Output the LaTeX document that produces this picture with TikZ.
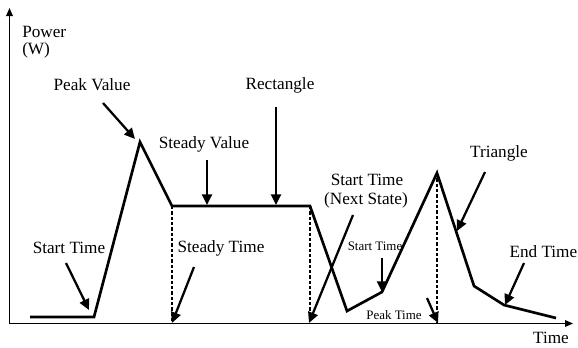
\documentclass[tikz,border=0pt]{standalone}
\usepackage{fontspec}
\setmainfont{Liberation Serif}
\usetikzlibrary{arrows.meta}
\begin{document}
\begin{tikzpicture}[x=0.75pt,y=-0.75pt,
  lbl/.style={inner sep=0pt,font=\fontsize{12.9}{14}\selectfont},
  slbl/.style={inner sep=0pt,font=\fontsize{9.7}{11}\selectfont},
  axisline/.style={line width=0.9pt,-{Triangle[length=6pt,width=5pt]}},
  curveline/.style={line width=2pt,line join=miter},
  pointer/.style={line width=1.7pt,-{Triangle[length=8pt,width=7.5pt]}},
  guide/.style={line width=1.8pt,dash pattern=on 2.5pt off 1.5pt}]
\useasboundingbox (0,0) rectangle (578,347);
% axes
\coordinate (O) at (9.5,323.5);
\coordinate (ytip) at (9.5,8);
\coordinate (xtip) at (573,323.5);
\draw[axisline] (O) -- (ytip);
\draw[axisline] (O) -- (xtip);
\node[lbl,anchor=west] (power) at (22,32) {Power};
\node[lbl,anchor=west] (watt) at (22,50) {(W)};
\node[lbl,anchor=base] (time) at (551,343.5) {Time};
% curve points
\coordinate (c0) at (30,317);
\coordinate (c1) at (94,317);
\coordinate (c2) at (140,142);
\coordinate (c3) at (172,206);
\coordinate (c4) at (310,206);
\coordinate (c5) at (347,311);
\coordinate (c6) at (382,292);
\coordinate (c7) at (437,173);
\coordinate (c8) at (474,286);
\coordinate (c9) at (504,305);
\coordinate (c10) at (556,318);
\draw[curveline] (c0) -- (c1) -- (c2) -- (c3) -- (c4) -- (c5) -- (c6) -- (c7) -- (c8) -- (c9) -- (c10);
% dashed guides
\coordinate (g1) at (172,323.5);
\coordinate (g2) at (310,323.5);
\coordinate (g3) at (437,323.5);
\draw[guide] (c3) -- (g1);
\draw[guide] (c4) -- (g2);
\draw[guide] (c7) -- (g3);
% labels
\node[lbl] (peakv) at (92,85) {Peak Value};
\node[lbl] (rect) at (280,85) {Rectangle};
\node[lbl] (steadyv) at (204,144) {Steady Value};
\node[lbl] (tri) at (499,153) {Triangle};
\node[lbl] (startt) at (69,248) {Start Time};
\node[lbl] (steadyt) at (221,248) {Steady Time};
\node[lbl] (nextst) at (367,180) {Start Time};
\node[lbl] (nextst2) at (366,200) {(Next State)};
\node[slbl] (starts) at (375,246) {Start Time};
\node[slbl] (peakt) at (394,315) {Peak Time};
\node[lbl,anchor=east] (endt) at (577.5,252) {End Time};
% arrows
\coordinate (a1s) at (103,103); \coordinate (a1e) at (135,139);
\draw[pointer] (a1s) -- (a1e);
\coordinate (a2s) at (207,160); \coordinate (a2e) at (207,205);
\draw[pointer] (a2s) -- (a2e);
\coordinate (a3s) at (276,107); \coordinate (a3e) at (276,205);
\draw[pointer] (a3s) -- (a3e);
\coordinate (a4s) at (66,263); \coordinate (a4e) at (89,310);
\draw[pointer] (a4s) -- (a4e);
\coordinate (a5s) at (194,267); \coordinate (a5e) at (172,323);
\draw[pointer] (a5s) -- (a5e);
\coordinate (a6s) at (353,215); \coordinate (a6e) at (309,323);
\draw[pointer] (a6s) -- (a6e);
\coordinate (a7s) at (382,258); \coordinate (a7e) at (382,292);
\draw[pointer] (a7s) -- (a7e);
\coordinate (a8s) at (427,298); \coordinate (a8e) at (438,323);
\draw[pointer] (a8s) -- (a8e);
\coordinate (a9s) at (485,172); \coordinate (a9e) at (457,231);
\draw[pointer] (a9s) -- (a9e);
\coordinate (a10s) at (524,263); \coordinate (a10e) at (505,305);
\draw[pointer] (a10s) -- (a10e);
\end{tikzpicture}
\end{document}
